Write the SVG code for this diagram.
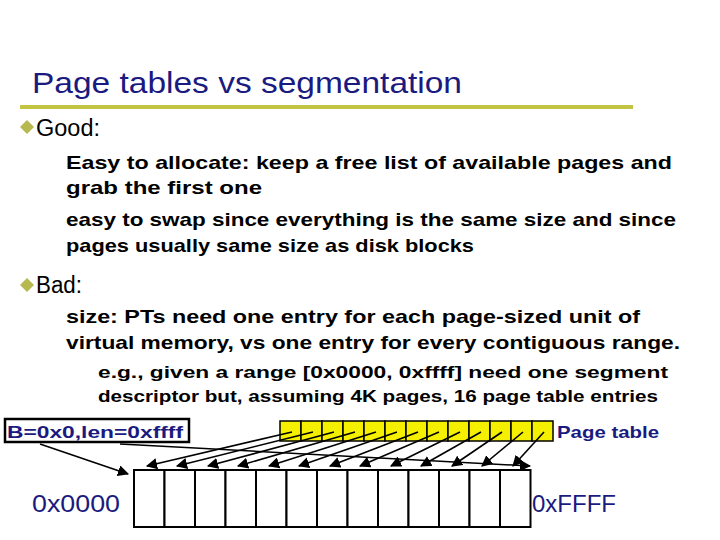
<svg xmlns="http://www.w3.org/2000/svg" width="720" height="540" viewBox="0 0 720 540">
<defs>
<marker id="ah" viewBox="0 0 10 10" refX="9" refY="5" markerWidth="7" markerHeight="7" orient="auto"><path d="M0,0 L10,5 L0,10 z" fill="#000"/></marker>
<style>
.t{font-family:"Liberation Sans",sans-serif}
.b{font-family:"Liberation Sans",sans-serif;font-weight:bold;font-size:19px;fill:#000}
.s{font-family:"Liberation Sans",sans-serif;font-weight:bold;font-size:16.5px;fill:#000}
.cell{fill:#fff;stroke:#000;stroke-width:2}
.pt{fill:#f5f000;stroke:#000;stroke-width:1.5}
.ar{stroke:#000;stroke-width:1.6;fill:none;marker-end:url(#ah)}
</style>
</defs>
<rect width="720" height="540" fill="#fff"/>
<text class="t" x="32" y="93" font-size="30" fill="#1a1a80" textLength="430" lengthAdjust="spacingAndGlyphs">Page tables vs segmentation</text>
<line x1="20" y1="107" x2="633" y2="107" stroke="#c4c444" stroke-width="4"/>
<path d="M27,120 L34,127 L27,134 L20,127 z" fill="#b8b850"/>
<text class="t" x="36" y="136" font-size="23" fill="#000" textLength="64" lengthAdjust="spacingAndGlyphs">Good:</text>
<text class="b" x="66" y="169" textLength="606" lengthAdjust="spacingAndGlyphs">Easy to allocate: keep a free list of available pages and</text>
<text class="b" x="66" y="194" textLength="196" lengthAdjust="spacingAndGlyphs">grab the first one</text>
<text class="b" x="66" y="226" textLength="610" lengthAdjust="spacingAndGlyphs">easy to swap since everything is the same size and since</text>
<text class="b" x="66" y="252" textLength="408" lengthAdjust="spacingAndGlyphs">pages usually same size as disk blocks</text>
<path d="M27,278 L34,285 L27,292 L20,285 z" fill="#b8b850"/>
<text class="t" x="36" y="293" font-size="23" fill="#000" textLength="46" lengthAdjust="spacingAndGlyphs">Bad:</text>
<text class="b" x="66" y="323" textLength="574" lengthAdjust="spacingAndGlyphs">size: PTs need one entry for each page-sized unit of</text>
<text class="b" x="66" y="349" textLength="614" lengthAdjust="spacingAndGlyphs">virtual memory, vs one entry for every contiguous range.</text>
<text class="s" x="98" y="378" textLength="570" lengthAdjust="spacingAndGlyphs">e.g., given a range [0x0000, 0xffff] need one segment</text>
<text class="s" x="98" y="402" textLength="560" lengthAdjust="spacingAndGlyphs">descriptor but, assuming 4K pages, 16 page table entries</text>
<g id="seg"><rect x="5" y="419" width="184" height="23" fill="#fff" stroke="#000" stroke-width="2.5"/>
<text class="t" x="7" y="438" font-size="17" font-weight="bold" fill="#1a1a80" textLength="176" lengthAdjust="spacingAndGlyphs">B=0x0,len=0xffff</text></g>
<g id="pagetable">
<rect class="pt" x="280" y="421" width="21" height="20"/><rect class="pt" x="301" y="421" width="21" height="20"/><rect class="pt" x="322" y="421" width="21" height="20"/><rect class="pt" x="343" y="421" width="21" height="20"/><rect class="pt" x="364" y="421" width="21" height="20"/><rect class="pt" x="385" y="421" width="21" height="20"/><rect class="pt" x="406" y="421" width="21" height="20"/><rect class="pt" x="427" y="421" width="21" height="20"/><rect class="pt" x="448" y="421" width="21" height="20"/><rect class="pt" x="469" y="421" width="21" height="20"/><rect class="pt" x="490" y="421" width="21" height="20"/><rect class="pt" x="511" y="421" width="21" height="20"/><rect class="pt" x="532" y="421" width="21" height="20"/>
<text class="t" x="557" y="438" font-size="17" font-weight="bold" fill="#1a1a80" textLength="102" lengthAdjust="spacingAndGlyphs">Page table</text></g>
<g id="memory">
<rect class="cell" x="134" y="470" width="30.5" height="57"/><rect class="cell" x="164.5" y="470" width="30.5" height="57"/><rect class="cell" x="195" y="470" width="30.5" height="57"/><rect class="cell" x="225.5" y="470" width="30.5" height="57"/><rect class="cell" x="256" y="470" width="30.5" height="57"/><rect class="cell" x="286.5" y="470" width="30.5" height="57"/><rect class="cell" x="317" y="470" width="30.5" height="57"/><rect class="cell" x="347.5" y="470" width="30.5" height="57"/><rect class="cell" x="378" y="470" width="30.5" height="57"/><rect class="cell" x="408.5" y="470" width="30.5" height="57"/><rect class="cell" x="439" y="470" width="30.5" height="57"/><rect class="cell" x="469.5" y="470" width="30.5" height="57"/><rect class="cell" x="500" y="470" width="30.5" height="57"/>
<text class="t" x="32" y="512" font-size="24" fill="#1a1a80" textLength="88" lengthAdjust="spacingAndGlyphs">0x0000</text>
<text class="t" x="532" y="512" font-size="24" fill="#1a1a80" textLength="84" lengthAdjust="spacingAndGlyphs">0xFFFF</text></g>
<g id="connectors">
<line class="ar" x1="40" y1="444" x2="128" y2="474"/>
<line class="ar" x1="120" y1="444" x2="530" y2="466"/>
<line class="ar" x1="292" y1="432" x2="147" y2="466"/>
<line class="ar" x1="313" y1="432" x2="177" y2="466"/>
<line class="ar" x1="334" y1="432" x2="208" y2="466"/>
<line class="ar" x1="355" y1="432" x2="238" y2="466"/>
<line class="ar" x1="376" y1="432" x2="269" y2="466"/>
<line class="ar" x1="397" y1="432" x2="299" y2="466"/>
<line class="ar" x1="418" y1="432" x2="330" y2="466"/>
<line class="ar" x1="439" y1="432" x2="360" y2="466"/>
<line class="ar" x1="460" y1="432" x2="391" y2="466"/>
<line class="ar" x1="481" y1="432" x2="421" y2="466"/>
<line class="ar" x1="502" y1="432" x2="452" y2="466"/>
<line class="ar" x1="523" y1="432" x2="482" y2="466"/>
<line class="ar" x1="544" y1="432" x2="513" y2="466"/>
</g>
</svg>
